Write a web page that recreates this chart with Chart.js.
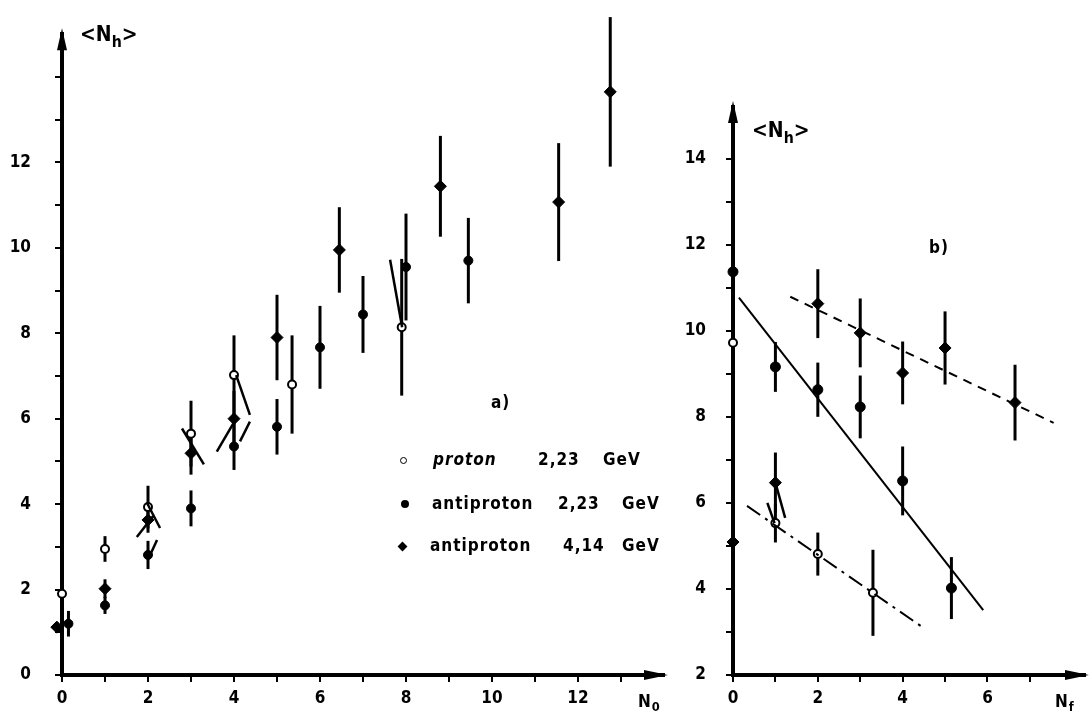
<!DOCTYPE html>
<html>
<head>
<meta charset="utf-8">
<script src="https://cdn.jsdelivr.net/npm/chart.js@4/dist/chart.umd.min.js"></script>
<style>
  body { margin: 0; background: #fff; }
  #wrap { position: relative; width: 1092px; height: 720px; overflow: hidden; background: #fff; }
  canvas { position: absolute; top: 0; }
  .txt { position: absolute; font-family: 'DejaVu Sans Condensed', 'DejaVu Sans', sans-serif; font-weight: bold; color: #000; white-space: nowrap; line-height: 1; }
  .txt sub { font-size: 75%; vertical-align: -0.35em; }
  .big { font-size: 21px; }
  .leg { font-size: 17px; letter-spacing: 1px; }
  .mk { position: absolute; background: #000; }
</style>
</head>
<body>
<div id="wrap">
  <canvas id="chartA" width="680" height="720" style="left:0"></canvas>
  <canvas id="chartB" width="412" height="720" style="left:680px"></canvas>

  <div class="txt big" style="left:80px;top:24px">&lt;N<sub>h</sub>&gt;</div>
  <div class="txt big" style="left:752px;top:120px">&lt;N<sub>h</sub>&gt;</div>
  <div class="txt leg" style="left:638px;top:693px">N<sub>0</sub></div>
  <div class="txt leg" style="left:1055px;top:693px">N<sub>f</sub></div>
  <div class="txt leg" style="left:491px;top:394px">a)</div>
  <div class="txt leg" style="left:929px;top:239px">b)</div>

  <!-- legend of panel a) -->
  <div class="mk" style="left:400px;top:457px;width:5px;height:5px;border-radius:50%;background:#fff;border:1.5px solid #000"></div>
  <div class="txt leg" style="left:433px;top:451px;font-style:italic">proton</div>
  <div class="txt leg" style="left:538px;top:451px">2,23</div>
  <div class="txt leg" style="left:603px;top:451px">GeV</div>

  <div class="mk" style="left:401px;top:500px;width:8px;height:8px;border-radius:50%"></div>
  <div class="txt leg" style="left:432px;top:495px">antiproton</div>
  <div class="txt leg" style="left:558px;top:495px">2,23</div>
  <div class="txt leg" style="left:622px;top:495px">GeV</div>

  <div class="mk" style="left:399px;top:543px;width:7px;height:7px;transform:rotate(45deg)"></div>
  <div class="txt leg" style="left:430px;top:537px">antiproton</div>
  <div class="txt leg" style="left:563px;top:537px">4,14</div>
  <div class="txt leg" style="left:622px;top:537px">GeV</div>
</div>

<script>
  // ── panel a) : <N_h> against N_0 ─────────────────────────────────────────
  const protonX   = [0, 1, 2, 3, 4, 5.35, 7.9];
  const protonY   = [1.9, 2.95, 3.93, 5.65, 7.02, 6.8, 8.14];
  const protonErr = [0.27, 0.3, 0.5, 0.77, 0.93, 1.15, 1.6];

  const pbarLowX   = [0.15, 1, 2, 3, 4, 5, 6, 7, 8, 9.45];
  const pbarLowY   = [1.2, 1.63, 2.81, 3.9, 5.35, 5.81, 7.67, 8.44, 9.55, 9.7];
  const pbarLowErr = [0.3, 0.2, 0.33, 0.42, 0.55, 0.65, 0.97, 0.9, 1.25, 1.0];

  const pbarHighX   = [-0.12, 1, 2, 3, 4, 5, 6.45, 8.8, 11.55, 12.75];
  const pbarHighY   = [1.12, 2.02, 3.63, 5.19, 6.0, 7.9, 9.95, 11.44, 11.07, 13.65];
  const pbarHighErr = [0.12, 0.22, 0.3, 0.5, 0.65, 1.0, 1.0, 1.18, 1.38, 1.75];

  // short slanted strokes drawn next to some points
  const offsetsA = [
    [[1.74, 3.23], [2.12, 3.72]],
    [[1.98, 4.02], [2.28, 3.44]],
    [[2.05, 2.81], [2.21, 3.16]],
    [[2.79, 5.77], [3.30, 4.93]],
    [[3.60, 5.23], [4.05, 6.00]],
    [[4.05, 7.02], [4.37, 6.09]],
    [[4.14, 5.47], [4.37, 5.93]],
    [[7.63, 9.72], [7.91, 8.14]],
  ];

  // ── panel b) : <N_h> against N_f ─────────────────────────────────────────
  const bOpenX   = [0, 1, 2, 3.3];
  const bOpenY   = [9.72, 5.53, 4.81, 3.91];
  const bOpenErr = [0.67, 0.45, 0.5, 1.0];

  const bDotX   = [0, 1, 2, 3, 4, 5.15];
  const bDotY   = [11.37, 9.16, 8.63, 8.23, 6.51, 4.02];
  const bDotErr = [0.68, 0.58, 0.63, 0.73, 0.8, 0.72];

  const bDiaX   = [0, 1, 2, 3, 4, 5, 6.65];
  const bDiaY   = [5.09, 6.47, 10.63, 9.95, 9.02, 9.6, 8.33];
  const bDiaErr = [1.0, 0.7, 0.8, 0.8, 0.73, 0.85, 0.88];

  const fitSolid   = [[0.14, 10.77], [5.9, 3.51]];
  const fitDashed  = [[1.35, 10.79], [7.56, 7.86]];
  const fitDashDot = [[0.33, 5.93], [4.53, 3.07]];

  const offsetsB = [
    [[0.81, 6.00], [0.98, 5.53]],
    [[1.00, 6.47], [1.23, 5.65]],
  ];

  const FONT = "'DejaVu Sans Condensed', 'DejaVu Sans', sans-serif";
  const toPts = (xs, ys) => xs.map((x, i) => ({ x, y: ys[i] }));
  const toLine = seg => seg.map(p => ({ x: p[0], y: p[1] }));

  // ── error bars through the y scale ───────────────────────────────────────
  const errorBars = {
    id: "errorBars",
    beforeDatasetsDraw(chart) {
      const { ctx } = chart;
      const y = chart.scales.y;
      ctx.save();
      ctx.strokeStyle = "#000";
      ctx.lineWidth = 3;
      chart.data.datasets.forEach((ds, i) => {
        if (!ds.errors) return;
        chart.getDatasetMeta(i).data.forEach((pt, j) => {
          const v = ds.data[j].y, e = ds.errors[j];
          ctx.beginPath();
          ctx.moveTo(pt.x, y.getPixelForValue(v + e));
          ctx.lineTo(pt.x, y.getPixelForValue(v - e));
          ctx.stroke();
        });
      });
      ctx.restore();
    },
  };

  // ── arrow heads on both axes ─────────────────────────────────────────────
  const axisArrows = {
    id: "axisArrows",
    afterDraw(chart) {
      const { ctx, chartArea: a } = chart;
      ctx.save();
      ctx.fillStyle = "#000";
      ctx.beginPath();
      ctx.moveTo(a.left, a.top - 6);
      ctx.lineTo(a.left - 5, a.top + 16);
      ctx.lineTo(a.left + 5, a.top + 16);
      ctx.closePath();
      ctx.fill();
      ctx.beginPath();
      ctx.moveTo(a.right + 4, a.bottom);
      ctx.lineTo(a.right - 20, a.bottom - 5);
      ctx.lineTo(a.right - 20, a.bottom + 5);
      ctx.closePath();
      ctx.fill();
      ctx.restore();
    },
  };

  function pointSet(xs, ys, errs, style, r) {
    const open = style === "open";
    return {
      data: toPts(xs, ys),
      errors: errs,
      showLine: false,
      clip: false,
      pointStyle: style === "diamond" ? "rectRot" : "circle",
      pointRadius: r,
      pointBorderWidth: open ? 2 : 1,
      pointBorderColor: "#000",
      pointBackgroundColor: open ? "#fff" : "#000",
    };
  }

  function lineSet(seg, dash, width) {
    return {
      data: toLine(seg),
      showLine: true,
      clip: false,
      pointRadius: 0,
      borderColor: "#000",
      borderWidth: width,
      borderDash: dash,
    };
  }

  function axisOpts(min, max, labelEvery, topTick, fit, pad) {
    return {
      type: "linear",
      min, max,
      afterBuildTicks: s => {
        s.ticks = s.ticks.filter(t => Number.isInteger(t.value) && t.value <= topTick);
      },
      afterFit: fit,
      ticks: {
        stepSize: 1,
        autoSkip: false,
        maxRotation: 0,
        padding: pad,
        color: "#000",
        font: { family: FONT, size: 17, weight: "bold" },
        callback: v => (v % 2 === 0 && v <= labelEvery ? String(v) : ""),
      },
      grid: { drawOnChartArea: false, drawTicks: true, tickLength: 7, color: "#000", lineWidth: 2 },
      border: { display: true, color: "#000", width: 4 },
    };
  }

  function baseOptions(padding, scales) {
    return {
      responsive: false,
      animation: false,
      devicePixelRatio: 1,
      layout: { padding },
      plugins: { legend: { display: false }, tooltip: { enabled: false } },
      scales,
    };
  }

  new Chart(document.getElementById("chartA"), {
    type: "scatter",
    data: {
      datasets: [
        ...offsetsA.map(s => lineSet(s, [], 2.5)),
        pointSet(protonX, protonY, protonErr, "open", 4),
        pointSet(pbarLowX, pbarLowY, pbarLowErr, "dot", 4.5),
        pointSet(pbarHighX, pbarHighY, pbarHighErr, "diamond", 6),
      ],
    },
    options: baseOptions({ top: 25, right: 16, left: 0, bottom: 0 }, {
      x: axisOpts(0, 14, 12, 13, s => { s.height = 45; }, 6),
      y: axisOpts(0, 15, 12, 14, s => { s.width = 62; }, 24),
    }),
    plugins: [errorBars, axisArrows],
  });

  new Chart(document.getElementById("chartB"), {
    type: "scatter",
    data: {
      datasets: [
        lineSet(fitSolid, [], 2),
        lineSet(fitDashed, [9, 7], 2),
        lineSet(fitDashDot, [16, 6, 3, 6], 2),
        ...offsetsB.map(s => lineSet(s, [], 2.5)),
        pointSet(bOpenX, bOpenY, bOpenErr, "open", 4),
        pointSet(bDotX, bDotY, bDotErr, "dot", 5),
        pointSet(bDiaX, bDiaY, bDiaErr, "diamond", 6),
      ],
    },
    options: baseOptions({ top: 107, right: 4, left: 0, bottom: 0 }, {
      x: axisOpts(0, 8.3, 6, 7, s => { s.height = 45; }, 6),
      y: axisOpts(2, 15.2, 14, 14, s => { s.width = 53; }, 20),
    }),
    plugins: [errorBars, axisArrows],
  });
</script>
</body>
</html>
